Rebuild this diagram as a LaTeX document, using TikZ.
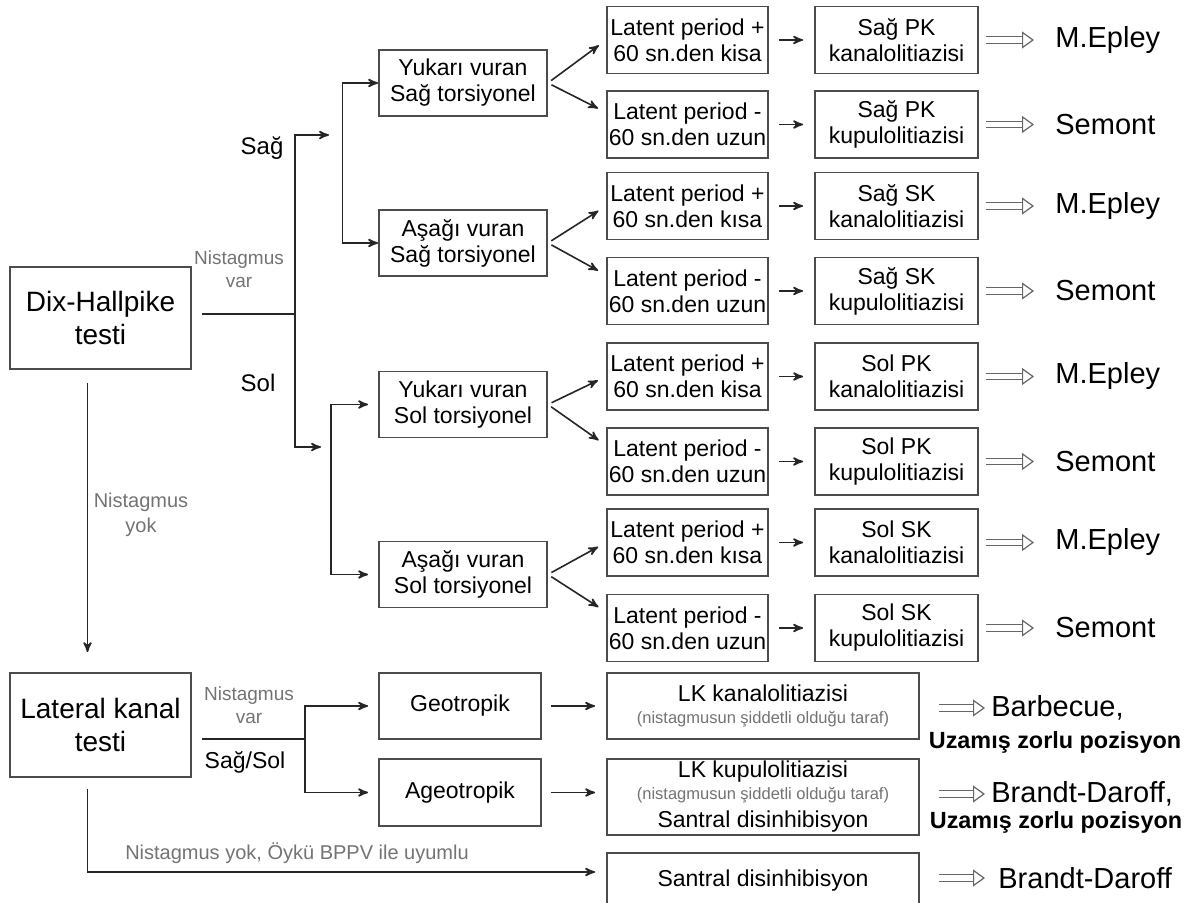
\documentclass[tikz,border=0pt]{standalone}
\usepackage{fontspec}
\setmainfont{Liberation Sans}
\usepackage{tikz}
\usetikzlibrary{arrows,arrows.meta,positioning,calc}
\tikzset{
    %Define standard arrow tip
    >=stealth',
    %Define style for boxes
    kutu/.style={
           draw=black!70,
           line width=0.9pt,
           fill=white,
           align=center,
           inner sep=0pt,
           font=\fontsize{11.5}{13}\selectfont},
    % Define arrow style
    pil/.style={
           ->,
           line width=0.8pt,
           draw=black!85},
    cizgi/.style={
           line width=0.8pt,
           draw=black!85},
    % Define double arrow style
    ciftpil/.style={
           draw=black!60,
           double=white,
           double distance=2.6pt,
           line width=0.6pt,
           -{Triangle[open, length=6pt, width=8.5pt]}},
    tedavi/.style={
           anchor=west,
           inner sep=0pt,
           font=\fontsize{14.5}{16}\selectfont},
    etiket/.style={
           text=black!55,
           align=center,
           inner sep=0pt,
           font=\fontsize{9.5}{11.5}\selectfont}
}

\begin{document}
\begin{tikzpicture}[x=0.5pt, y=-0.5pt, node distance=104.5pt]
	% styles
	\tikzstyle{latent} = [kutu, minimum width=80.5pt, minimum height=33.5pt]
	\tikzstyle{kanal} = [kutu, minimum width=81.5pt, minimum height=33.5pt]
	\tikzstyle{vuran} = [kutu, minimum width=84pt, minimum height=33pt]
	\tikzstyle{test} = [kutu, minimum width=90.5pt, font=\fontsize{14}{16.5}\selectfont]

	\useasboundingbox (0,0) rectangle (1196,903);

	% dix-hallpike path
	\node[test, minimum height=51pt] (dix) at (100.5,318) {Dix-Hallpike\\testi};
	\node[etiket] (var1) at (239,269) {Nistagmus\\var};
	\node[font=\fontsize{12}{14}\selectfont] (sag) at (262,148) {Sağ};
	\node[font=\fontsize{12}{14}\selectfont] (sol) at (258,383) {Sol};

	\coordinate (dal) at (295,314);
	\coordinate (sag-uc) at (329,135);
	\coordinate (sol-uc) at (321,447);
	\draw[cizgi, shorten <=5pt] (dix.east |- dal) -- (dal);
	\draw[pil] (dal) |- (sag-uc);
	\draw[pil] (dal) |- (sol-uc);

	% vuran boxes
	\node[vuran] (yuk-sag) at (463,83) {Yukarı vuran\\Sağ torsiyonel};
	\node[vuran] (asa-sag) at (463,243) {Aşağı vuran\\Sağ torsiyonel};
	\node[vuran] (yuk-sol) at (463,404.5) {Yukarı vuran\\Sol torsiyonel};
	\node[vuran] (asa-sol) at (463,574.5) {Aşağı vuran\\Sol torsiyonel};

	\coordinate (sag-kol) at (342.5,160);
	\coordinate (sol-kol) at (331,480);
	\draw[pil] (sag-kol) |- (yuk-sag.west);
	\draw[pil] (sag-kol) |- (asa-sag.west);
	\draw[pil, shorten >=5pt] (sol-kol) |- (yuk-sol.west);
	\draw[pil, shorten >=5pt] (sol-kol) |- (asa-sol.west);

	% latent rows
	\node[latent] (lat1) at (687.5,40) {Latent period +\\60 sn.den kisa};
	\node[latent] (lat2) at (687.5,124.5) {Latent period -\\60 sn.den uzun};
	\node[latent] (lat3) at (687.5,206) {Latent period +\\60 sn.den kısa};
	\node[latent] (lat4) at (687.5,291) {Latent period -\\60 sn.den uzun};
	\node[latent] (lat5) at (687.5,376.5) {Latent period +\\60 sn.den kisa};
	\node[latent] (lat6) at (687.5,461.5) {Latent period -\\60 sn.den uzun};
	\node[latent] (lat7) at (687.5,542.5) {Latent period +\\60 sn.den kısa};
	\node[latent] (lat8) at (687.5,628) {Latent period -\\60 sn.den uzun};

	\node[kanal, right of= lat1] (pk1) {Sağ PK\\kanalolitiazisi};
	\node[kanal, right of= lat2] (pk2) {Sağ PK\\kupulolitiazisi};
	\node[kanal, right of= lat3] (pk3) {Sağ SK\\kanalolitiazisi};
	\node[kanal, right of= lat4] (pk4) {Sağ SK\\kupulolitiazisi};
	\node[kanal, right of= lat5] (pk5) {Sol PK\\kanalolitiazisi};
	\node[kanal, right of= lat6] (pk6) {Sol PK\\kupulolitiazisi};
	\node[kanal, right of= lat7] (pk7) {Sol SK\\kanalolitiazisi};
	\node[kanal, right of= lat8] (pk8) {Sol SK\\kupulolitiazisi};

	\node[tedavi] (ted1) at (1055,40) {M.Epley};
	\node[tedavi] (ted2) at (1055,124.5) {Semont};
	\node[tedavi] (ted3) at (1055,206) {M.Epley};
	\node[tedavi] (ted4) at (1055,291) {Semont};
	\node[tedavi] (ted5) at (1055,376.5) {M.Epley};
	\node[tedavi] (ted6) at (1055,461.5) {Semont};
	\node[tedavi] (ted7) at (1055,542.5) {M.Epley};
	\node[tedavi] (ted8) at (1055,628) {Semont};

	\path[every edge/.style={draw, pil, shorten <=2pt, shorten >=4.5pt}]
	           (yuk-sag.east) edge (lat1.west) edge ([yshift=6pt]lat2.west)
	           (asa-sag.east) edge (lat3.west) edge ([yshift=8pt]lat4.west)
	           (yuk-sol.east) edge (lat5.west) edge ([yshift=8pt]lat6.west)
	           (asa-sol.east) edge (lat7.west) edge ([yshift=8pt]lat8.west);

	\path[every edge/.style={draw, pil, shorten <=5pt, shorten >=5.5pt}]
	           (lat1) edge (pk1) (lat2) edge (pk2) (lat3) edge (pk3) (lat4) edge (pk4)
	           (lat5) edge (pk5) (lat6) edge (pk6) (lat7) edge (pk7) (lat8) edge (pk8);

	\path[every edge/.style={draw, ciftpil, shorten <=3.5pt, shorten >=10.5pt}]
	           (pk1) edge (ted1) (pk2) edge (ted2) (pk3) edge (ted3) (pk4) edge (ted4)
	           (pk5) edge (ted5) (pk6) edge (ted6) (pk7) edge (ted7) (pk8) edge (ted8);

	% lateral kanal path
	\node[test, minimum height=52pt] (lateral) at (100.5,725) {Lateral kanal\\testi};
	\node[etiket, font=\fontsize{10}{12.5}\selectfont] (yok1) at (141,515) {Nistagmus\\yok};
	\draw[pil, shorten <=6.5pt, shorten >=10pt] ([xshift=-6.5pt]dix.south) -- ([xshift=-6.5pt]lateral.north);

	\node[etiket] (var2) at (249,705) {Nistagmus\\var};
	\node[font=\fontsize{11.5}{13}\selectfont] (sagsol) at (245,762) {Sağ/Sol};
	\node[etiket, font=\fontsize{10}{12}\selectfont] (yok2) at (297,853) {Nistagmus yok, Öykü BPPV ile uyumlu};

	\node[kutu, minimum width=81pt, minimum height=33pt] (geo) at (460,706) {Geotropik};
	\node[kutu, minimum width=81pt, minimum height=33.5pt] (ageo) at (460,792.5) {Ageotropik};

	\node[kutu, minimum width=156pt, minimum height=33pt] (lkk) at (763,706)
	    {LK kanalolitiazisi\\[-2pt]{\fontsize{8.25}{10}\selectfont\color{black!55}(nistagmusun şiddetli olduğu taraf)}};
	\node[kutu, minimum width=156pt, minimum height=38pt] (lkp) at (763,797)
	    {LK kupulolitiazisi\\[-2pt]{\fontsize{8.25}{10}\selectfont\color{black!55}(nistagmusun şiddetli olduğu taraf)}\\[1pt]Santral disinhibisyon};
	\node[kutu, minimum width=156pt, minimum height=28pt] (santral) at (763,881) {Santral disinhibisyon};

	\coordinate (lk-dal) at (305,739);
	\draw[cizgi, shorten <=5pt] (lateral.east |- lk-dal) -- (lk-dal);
	\draw[pil, shorten >=5pt] (lk-dal) |- (geo.west);
	\draw[pil, shorten >=5pt] (lk-dal) |- (ageo.west);
	\path[every edge/.style={draw, pil, shorten <=4.5pt, shorten >=5.5pt}]
	           (geo) edge (lkk)
	           (ageo.east) edge (ageo.east -| lkp.west);
	\draw[pil, shorten <=5.5pt, shorten >=5.5pt] ([xshift=-6.5pt]lateral.south) |- ([yshift=4.5pt]santral.west);

	% lateral kanal treatments
	\node[tedavi] (barbecue) at (991,708) {Barbecue,};
	\node[font=\bfseries\fontsize{11.7}{14}\selectfont] (uzamis1) at (1055,742) {Uzamış zorlu pozisyon};
	\node[tedavi] (brandt1) at (991,794) {Brandt-Daroff,};
	\node[font=\bfseries\fontsize{11.7}{14}\selectfont] (uzamis2) at (1056,822) {Uzamış zorlu pozisyon};
	\node[tedavi] (brandt2) at (998,878) {Brandt-Daroff};

	\path[every edge/.style={draw, ciftpil, shorten <=9.5pt, shorten >=3pt}]
	           (lkk.east |- barbecue) edge (barbecue)
	           (lkp.east |- brandt1) edge (brandt1);
	\draw[ciftpil, shorten <=9.5pt, shorten >=6.5pt] (santral.east |- brandt2) -- (brandt2);

\end{tikzpicture}
\end{document}
